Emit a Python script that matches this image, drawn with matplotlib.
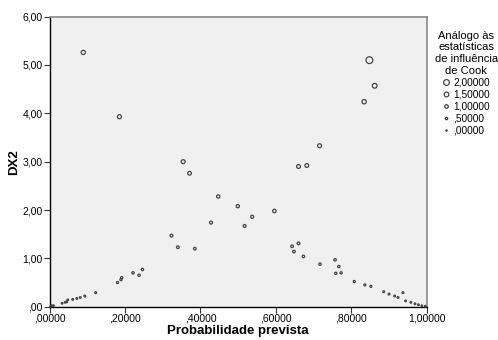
import matplotlib
matplotlib.use('Agg')
import matplotlib.pyplot as plt
from matplotlib.lines import Line2D
from matplotlib.ticker import FuncFormatter
import numpy as np

plt.rcParams['font.family'] = ['Liberation Sans', 'DejaVu Sans']

# Probabilidade prevista, DX2 and Cook analog per case
prob = [0.003, 0.006, 0.010, 0.033, 0.041, 0.045, 0.048, 0.061, 0.072, 0.081,
        0.093, 0.122, 0.180, 0.189, 0.191, 0.221, 0.237, 0.246, 0.089, 0.185,
        0.323, 0.340, 0.354, 0.371, 0.385, 0.428, 0.447, 0.499, 0.517, 0.537,
        0.596, 0.643, 0.648, 0.660, 0.660, 0.682, 0.673, 0.716, 0.717, 0.757,
        0.759, 0.767, 0.773, 0.808, 0.834, 0.836, 0.848, 0.852, 0.862, 0.886,
        0.900, 0.915, 0.924, 0.937, 0.944, 0.958, 0.969, 0.978, 0.987, 0.996]
dx2 = [0.01, 0.02, 0.02, 0.07, 0.09, 0.10, 0.14, 0.15, 0.17, 0.19,
       0.22, 0.29, 0.50, 0.56, 0.60, 0.70, 0.65, 0.77, 5.26, 3.93,
       1.47, 1.23, 3.00, 2.76, 1.20, 1.74, 2.28, 2.08, 1.67, 1.86,
       1.98, 1.25, 1.14, 1.31, 2.90, 2.92, 1.04, 3.33, 0.88, 0.97,
       0.69, 0.83, 0.70, 0.52, 4.24, 0.45, 5.10, 0.42, 4.57, 0.31,
       0.26, 0.22, 0.19, 0.29, 0.12, 0.09, 0.06, 0.04, 0.02, 0.01]
cook = [0.0, 0.0, 0.0, 0.02, 0.03, 0.03, 0.04, 0.05, 0.05, 0.06,
        0.08, 0.10, 0.20, 0.22, 0.24, 0.28, 0.27, 0.30, 1.0, 0.95,
        0.50, 0.42, 0.90, 0.80, 0.40, 0.55, 0.65, 0.62, 0.50, 0.55,
        0.70, 0.42, 0.38, 0.45, 0.85, 0.85, 0.35, 0.90, 0.30, 0.32,
        0.25, 0.28, 0.25, 0.20, 1.05, 0.15, 2.0, 0.15, 1.2, 0.10,
        0.08, 0.07, 0.06, 0.08, 0.04, 0.03, 0.02, 0.01, 0.0, 0.0]
legend_vals = [2.0, 1.5, 1.0, 0.5, 0.0]
legend_labels = ['2,00000', '1,50000', '1,00000', ',50000', ',00000']

edge = '#454545'

def diam(c):
    # marker diameter in points
    return (1.6 + 2.6 * np.asarray(c)) * 0.72

fig = plt.figure(figsize=(4.98, 3.40), dpi=100)
ax = fig.add_axes([0.0998, 0.098, 0.7570, 0.853])
ax.set_facecolor('#f0f0f0')

ax.scatter(prob, dx2, s=diam(cook) ** 2, facecolors='none', edgecolors=edge,
           linewidths=0.9, zorder=3, clip_on=False)

ax.set_xlim(0, 1)
ax.set_ylim(0, 6)
ax.set_xticks([0, 0.2, 0.4, 0.6, 0.8, 1.0])
ax.set_yticks([0, 1, 2, 3, 4, 5, 6])
ax.xaxis.set_major_formatter(FuncFormatter(lambda v, p: ('%.5f' % v).replace('0.', '.', 1).replace('.', ',') if v < 1 else '1,00000'))
ax.yaxis.set_major_formatter(FuncFormatter(lambda v, p: ',00' if v == 0 else ('%.2f' % v).replace('.', ',')))
ax.tick_params(axis='both', labelsize=7.5, length=4, width=0.8, color='#333333', pad=1)

for side in ['left', 'bottom']:
    ax.spines[side].set_color('black')
    ax.spines[side].set_linewidth(1.0)
for side in ['top', 'right']:
    ax.spines[side].set_color('#888888')
    ax.spines[side].set_linewidth(1.2)

ax.set_xlabel('Probabilidade prevista', fontsize=9.5, fontweight='bold', labelpad=1)
ax.set_ylabel('DX2', fontsize=9.5, fontweight='bold', labelpad=2)

handles = [Line2D([], [], linestyle='none', marker='o', markerfacecolor='none',
                  markeredgecolor=edge, markeredgewidth=0.9, markersize=d)
           for d in diam(legend_vals) * 0.85]
leg = ax.legend(handles, legend_labels, title='Análogo às\nestatísticas\nde influência\nde Cook',
                loc='upper left', bbox_to_anchor=(1.01, 0.965), frameon=False,
                fontsize=7.3, title_fontsize=8, handlelength=0.8, handletextpad=0.3,
                labelspacing=0.2, borderaxespad=0)
leg.get_title().set_multialignment('center')

fig.savefig('out.png', dpi=100)
